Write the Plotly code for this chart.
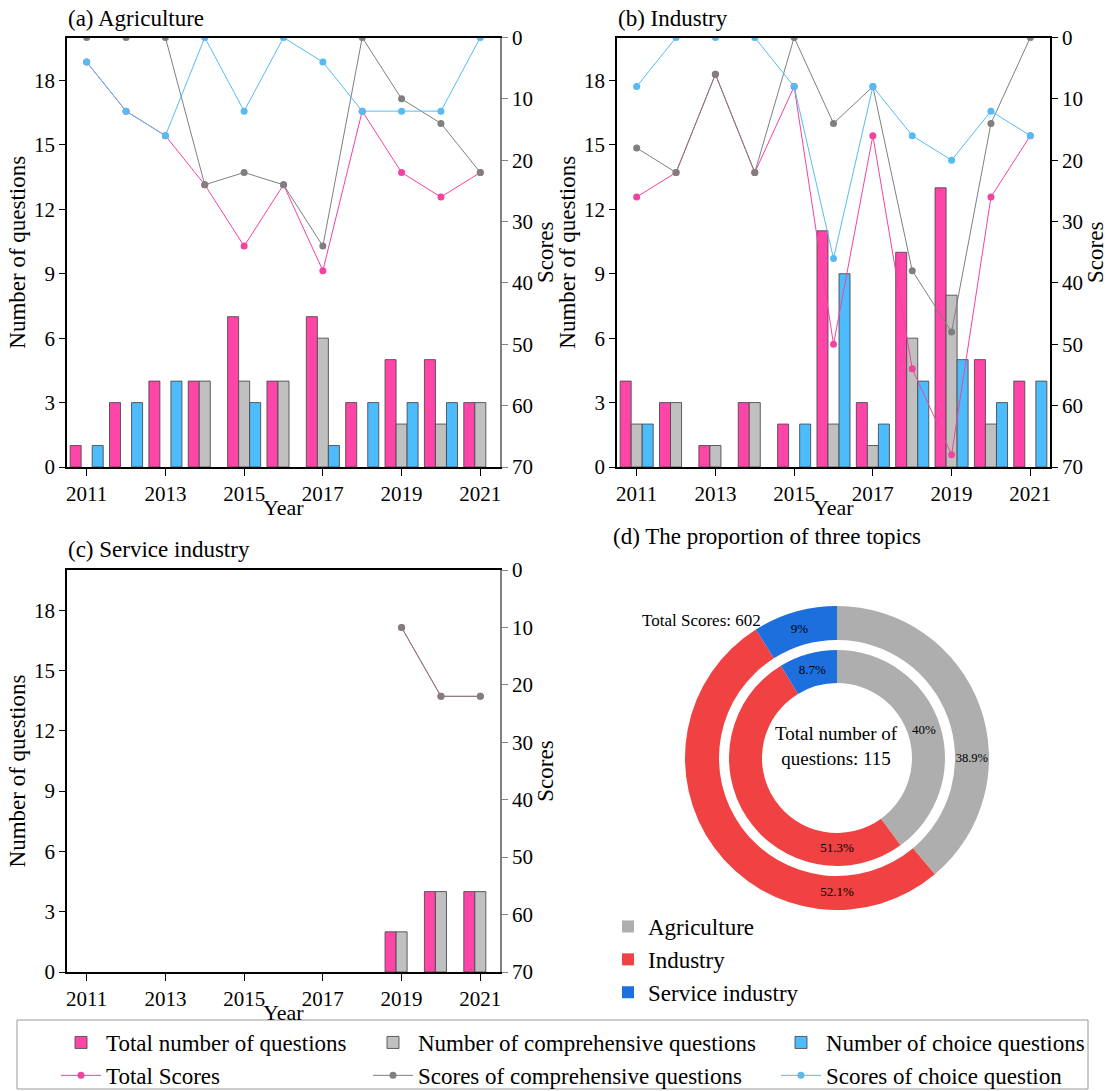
import plotly.graph_objects as go

# ---------------- data ----------------
years = [2011, 2012, 2013, 2014, 2015, 2016, 2017, 2018, 2019, 2020, 2021]
tick_years = [2011, 2013, 2015, 2017, 2019, 2021]

# (a) Agriculture
agr_total_q = [1, 3, 4, 4, 7, 4, 7, 3, 5, 5, 3]
agr_comp_q = [0, 0, 0, 4, 4, 4, 6, 0, 2, 2, 3]
agr_choice_q = [1, 3, 4, 0, 3, 0, 1, 3, 3, 3, 0]
agr_total_s = [4, 12, 16, 24, 34, 24, 38, 12, 22, 26, 22]
agr_comp_s = [0, 0, 0, 24, 22, 24, 34, 0, 10, 14, 22]
agr_choice_s = [4, 12, 16, 0, 12, 0, 4, 12, 12, 12, 0]

# (b) Industry
ind_total_q = [4, 3, 1, 3, 2, 11, 3, 10, 13, 5, 4]
ind_comp_q = [2, 3, 1, 3, 0, 2, 1, 6, 8, 2, 0]
ind_choice_q = [2, 0, 0, 0, 2, 9, 2, 4, 5, 3, 4]
ind_total_s = [26, 22, 6, 22, 8, 50, 16, 54, 68, 26, 16]
ind_comp_s = [18, 22, 6, 22, 0, 14, 8, 38, 48, 14, 0]
ind_choice_s = [8, 0, 0, 0, 8, 36, 8, 16, 20, 12, 16]

# (c) Service industry
srv_total_q = [0, 0, 0, 0, 0, 0, 0, 0, 2, 4, 4]
srv_comp_q = [0, 0, 0, 0, 0, 0, 0, 0, 2, 4, 4]
srv_choice_q = [0, 0, 0, 0, 0, 0, 0, 0, 0, 0, 0]
srv_total_s = [None, None, None, None, None, None, None, None, 10, 22, 22]
srv_comp_s = [None, None, None, None, None, None, None, None, 10, 22, 22]

# (d) proportions
topics = ["Agriculture", "Industry", "Service industry"]
score_pct_labels = ["38.9%", "52.1%", "9%"]
question_pct_labels = ["40%", "51.3%", "8.7%"]

# ---------------- style ----------------
FONT = "Liberation Serif"
C_PINK = "#FF45A8"
C_GRAY = "#C0C0C0"
C_BLUE = "#4DBCFC"
L_PINK = "#F442A0"
L_GRAY = "#7F7F7F"
L_BLUE = "#55BBF2"
PIE_COLORS = ["#AEAEAE", "#F04242", "#1C6FDD"]
OUTLINE = "rgba(70,70,70,0.85)"

W, H = 1109, 1091


def px_x(p):
    return p / W


def px_y(p):
    return 1 - p / H


def nz(vals):
    # zero-height bars are not drawn
    return [v if v else None for v in vals]


fig = go.Figure()

panels = [
    ("x", "y", "y2", agr_total_q, agr_comp_q, agr_choice_q,
     agr_total_s, agr_comp_s, agr_choice_s, True),
    ("x2", "y3", "y4", ind_total_q, ind_comp_q, ind_choice_q,
     ind_total_s, ind_comp_s, ind_choice_s, False),
    ("x3", "y5", "y6", srv_total_q, srv_comp_q, srv_choice_q,
     srv_total_s, srv_comp_s, None, False),
]

# legend column for each series (bottom legend: three columns)
bar_specs = [(C_PINK, "Total number of questions", "legend"),
             (C_GRAY, "Number of comprehensive questions", "legend3"),
             (C_BLUE, "Number of choice questions", "legend4")]
line_specs = [(L_PINK, "Total Scores", "legend"),
              (L_GRAY, "Scores of comprehensive questions", "legend3"),
              (L_BLUE, "Scores of choice question", "legend4")]

for xa, ya, yb, tq, cq, chq, ts, cs, chs, sl in panels:
    for vals, (col, name, lg) in zip([tq, cq, chq], bar_specs):
        fig.add_trace(go.Bar(
            x=years, y=nz(vals), name=name, xaxis=xa, yaxis=ya,
            marker=dict(color=col, line=dict(color=OUTLINE, width=1)),
            showlegend=sl, legend=lg, legendgroup=name,
        ))
    for vals, (col, name, lg) in zip([ts, cs, chs], line_specs):
        if vals is None:
            continue
        fig.add_trace(go.Scatter(
            x=years, y=vals, name=name, xaxis=xa, yaxis=yb,
            mode="lines+markers",
            line=dict(color=col, width=1),
            marker=dict(color=col, size=7),
            showlegend=sl, legend=lg, legendgroup=name,
        ))

# ---------------- pies ----------------
score_totals = [sum(agr_total_s),
                sum(ind_total_s),
                sum(v for v in srv_total_s if v is not None)]
question_totals = [sum(agr_total_q), sum(ind_total_q), sum(srv_total_q)]

cx, cy = 837, 758
r_out, r_in = 152, 108

fig.add_trace(go.Pie(
    labels=topics, values=score_totals, text=score_pct_labels,
    textinfo="text", textposition="inside", insidetextorientation="horizontal",
    textfont=dict(family=FONT, size=13, color="black"),
    hole=118 / 152, sort=False, direction="clockwise",
    marker=dict(colors=PIE_COLORS, line=dict(width=0)),
    domain=dict(x=[px_x(cx - r_out), px_x(cx + r_out)],
                y=[px_y(cy + r_out), px_y(cy - r_out)]),
    legend="legend2", showlegend=True, hoverinfo="label+value",
))
fig.add_trace(go.Pie(
    labels=topics, values=question_totals, text=question_pct_labels,
    textinfo="text", textposition="inside", insidetextorientation="horizontal",
    textfont=dict(family=FONT, size=13, color="black"),
    hole=75 / 108, sort=False, direction="clockwise",
    marker=dict(colors=PIE_COLORS, line=dict(width=0)),
    domain=dict(x=[px_x(cx - r_in), px_x(cx + r_in)],
                y=[px_y(cy + r_in), px_y(cy - r_in)]),
    legend="legend2", showlegend=True, hoverinfo="label+value",
))

# ---------------- axes ----------------
tickfont = dict(family=FONT, size=21, color="black")
titlefont = dict(family=FONT, size=23, color="black")

xa_dom = [px_x(67), px_x(500)]
xb_dom = [px_x(617), px_x(1050)]
top_dom = [px_y(467), px_y(37.5)]
bot_dom = [px_y(972), px_y(570)]


def xaxis(dom, anchor):
    return dict(domain=dom, anchor=anchor, range=[2010.5, 2021.5],
                tickmode="array", tickvals=tick_years,
                ticktext=[str(t) for t in tick_years],
                ticks="outside", ticklen=7, tickcolor="black",
                showline=True, linecolor="black", linewidth=1.5,
                mirror=True, showgrid=False, zeroline=False,
                tickfont=tickfont)


def yleft(dom, anchor):
    return dict(domain=dom, anchor=anchor, range=[0, 20],
                tickmode="array", tickvals=[0, 3, 6, 9, 12, 15, 18],
                ticks="outside", ticklen=6, tickcolor="black",
                showline=True, linecolor="black", linewidth=1.5,
                showgrid=False, zeroline=False, tickfont=tickfont,
                title=dict(text="Number of questions", font=titlefont, standoff=2))


def yright(overlay, anchor, lc):
    return dict(overlaying=overlay, anchor=anchor, side="right",
                range=[70, 0], tickmode="array",
                tickvals=[0, 10, 20, 30, 40, 50, 60, 70],
                ticks="outside", ticklen=6, tickcolor=lc,
                showline=True, linecolor=lc, linewidth=1.5,
                showgrid=False, zeroline=False, tickfont=tickfont,
                title=dict(text="Scores", font=titlefont, standoff=0))


fig.update_layout(
    xaxis=xaxis(xa_dom, "y"), yaxis=yleft(top_dom, "x"),
    yaxis2=yright("y", "x", "#808080"),
    xaxis2=xaxis(xb_dom, "y3"), yaxis3=yleft(top_dom, "x2"),
    yaxis4=yright("y3", "x2", "black"),
    xaxis3=xaxis(xa_dom, "y5"), yaxis5=yleft(bot_dom, "x3"),
    yaxis6=yright("y5", "x3", "#808080"),
)

# ---------------- annotations ----------------
ann_font = dict(family=FONT, size=23, color="black")
year_font = dict(family=FONT, size=22, color="black")
annotations = [
    dict(text="(a) Agriculture", x=px_x(66), y=px_y(18), xanchor="left",
         font=ann_font),
    dict(text="(b) Industry", x=px_x(616), y=px_y(18), xanchor="left",
         font=ann_font),
    dict(text="(c) Service industry", x=px_x(66), y=px_y(549), xanchor="left",
         font=ann_font),
    dict(text="(d) The proportion of three topics", x=px_x(611), y=px_y(536),
         xanchor="left", font=ann_font),
    dict(text="Year", x=px_x(283.5), y=px_y(507), xanchor="center",
         font=year_font),
    dict(text="Year", x=px_x(833.5), y=px_y(507), xanchor="center",
         font=year_font),
    dict(text="Year", x=px_x(283.5), y=px_y(1012), xanchor="center",
         font=year_font),
]
for a in annotations:
    a.update(xref="paper", yref="paper", yanchor="middle", showarrow=False)

annotations.append(dict(
    text="Total Scores: %d" % sum(score_totals), x=px_x(763), y=px_y(620),
    xref="paper", yref="paper", xanchor="right", yanchor="middle",
    showarrow=False, font=dict(family=FONT, size=17, color="black")))
annotations.append(dict(
    text="Total number of<br>questions: %d" % sum(question_totals),
    x=px_x(836), y=px_y(746), xref="paper", yref="paper",
    xanchor="center", yanchor="middle", showarrow=False,
    font=dict(family=FONT, size=19, color="black")))

leg_font = dict(family=FONT, size=23, color="black")


def col_legend(xpix):
    return dict(orientation="v", x=px_x(xpix), y=px_y(1021),
                xanchor="left", yanchor="top", font=leg_font,
                bgcolor="rgba(0,0,0,0)", traceorder="normal",
                itemwidth=40, tracegroupgap=0)


fig.update_layout(
    width=W, height=H,
    margin=dict(l=0, r=0, t=0, b=0, autoexpand=False),
    paper_bgcolor="white", plot_bgcolor="white",
    barmode="group", bargap=0.16, bargroupgap=0,
    font=dict(family=FONT, size=21, color="black"),
    annotations=annotations,
    legend=col_legend(56),
    legend3=col_legend(368),
    legend4=col_legend(776),
    legend2=dict(
        orientation="v", x=px_x(608), y=px_y(905),
        xanchor="left", yanchor="top", font=leg_font,
        bgcolor="rgba(0,0,0,0)", traceorder="normal",
    ),
    shapes=[dict(type="rect", xref="paper", yref="paper",
                 x0=px_x(17), x1=px_x(1088), y0=px_y(1089), y1=px_y(1020),
                 line=dict(color="#9A9A9A", width=1), layer="below")],
)

fig.write_html(
    "out.html",
    config={"displayModeBar": False},
    post_script="document.body.style.margin='0px';"
                "document.body.style.overflow='hidden';",
)
